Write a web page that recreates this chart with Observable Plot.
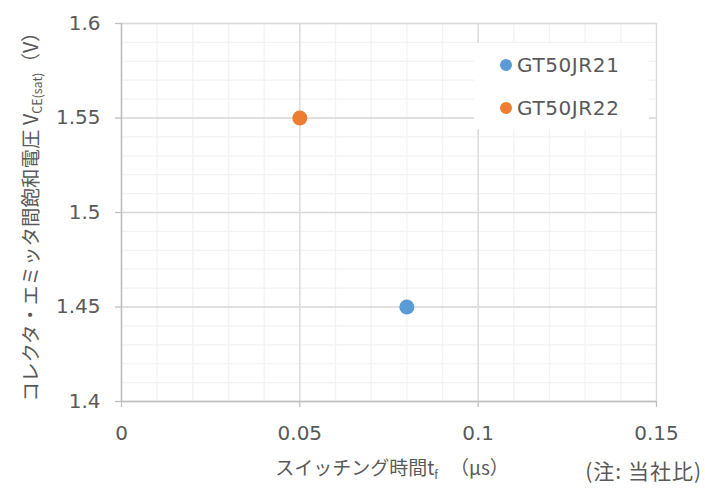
<!DOCTYPE html>
<html>
<head>
<meta charset="utf-8">
<script src="https://cdn.jsdelivr.net/npm/d3@7"></script>
<script src="https://cdn.jsdelivr.net/npm/@observablehq/plot@0.6"></script>
<style>
  html, body { margin: 0; padding: 0; background: #fff; }
  #chart svg { display: block; }
</style>
</head>
<body>
<div id="chart"></div>
<script>
// ---- data ----
const seriesNames = ["GT50JR21", "GT50JR22"];
const seriesColors = ["#5b9bd5", "#ed7d31"];
const switchingTime = [0.08, 0.05];      // tf (μs)
const vceSat = [1.45, 1.55];             // VCE(sat) (V)
const xTicks = [0, 0.05, 0.1, 0.15];
const xTickLabels = ["0", "0.05", "0.1", "0.15"];
const yTicks = [1.4, 1.45, 1.5, 1.55, 1.6];
const yTickLabels = ["1.4", "1.45", "1.5", "1.55", "1.6"];

const points = seriesNames.map((name, i) => ({name, x: switchingTime[i], y: vceSat[i], color: seriesColors[i]}));

const FONT = "'DejaVu Sans', 'Noto Sans CJK JP', sans-serif";
const JFONT = "'Noto Sans CJK JP', sans-serif";
const TXT = "#595959";

const chart = Plot.plot({
  width: 705,
  height: 490,
  marginLeft: 121,
  marginRight: 49,
  marginTop: 23,
  marginBottom: 89,
  style: {fontFamily: FONT, fontSize: "20px", color: TXT, background: "#fff"},
  x: {domain: [0, 0.15]},
  y: {domain: [1.4, 1.6]},
  marks: [
    Plot.gridX({ticks: 15, stroke: "#f2f2f2", strokeOpacity: 1, strokeWidth: 1.3}),
    Plot.gridY({ticks: 20, stroke: "#f2f2f2", strokeOpacity: 1, strokeWidth: 1.3}),
    Plot.gridX({ticks: xTicks, stroke: "#d9d9d9", strokeOpacity: 1, strokeWidth: 1.3}),
    Plot.gridY({ticks: yTicks, stroke: "#d9d9d9", strokeOpacity: 1, strokeWidth: 1.3}),
    Plot.axisX({ticks: xTicks, tickFormat: (d, i) => xTickLabels[i], tickSize: 6, tickPadding: 18,
      stroke: "#bfbfbf", strokeWidth: 1.3, label: null, fill: TXT}),
    Plot.axisY({ticks: yTicks, tickFormat: (d, i) => yTickLabels[i], tickSize: 6, tickPadding: 15,
      stroke: "#bfbfbf", strokeWidth: 1.3, label: null, fill: TXT}),
    Plot.ruleX([0], {stroke: "#bfbfbf", strokeWidth: 1.5}),
    Plot.ruleY([1.4], {stroke: "#bfbfbf", strokeWidth: 1.5}),
    Plot.dot(points, {x: "x", y: "y", fill: "color", r: 7.5, stroke: null})
  ]
});

document.getElementById("chart").appendChild(chart);

const svg = d3.select(chart);

// legend box
const lg = svg.append("g").attr("class", "legend");
lg.append("rect").attr("x", 474).attr("y", 43).attr("width", 175).attr("height", 86).attr("fill", "#fff");
seriesNames.forEach((name, i) => {
  const cy = 65 + i * 43;
  lg.append("circle").attr("cx", 506).attr("cy", cy).attr("r", 6).attr("fill", seriesColors[i]);
  lg.append("text").attr("x", 517).attr("y", cy).attr("dy", "0.36em")
    .attr("text-anchor", "start")
    .attr("font-family", FONT).attr("font-size", 20).attr("letter-spacing", 0.6).attr("fill", TXT).text(name);
});

// y axis title
const yt = svg.append("text")
  .attr("transform", "translate(31,212) rotate(-90)")
  .attr("text-anchor", "middle")
  .attr("dy", "0.36em")
  .attr("font-family", JFONT).attr("font-size", 19.5).attr("fill", TXT);
yt.append("tspan").text("コレクタ・エミッタ間飽和電圧 V");
yt.append("tspan").attr("font-size", 12.5).attr("dy", 4).text("CE(sat)");
yt.append("tspan").attr("dy", -4).text("（V）");

// x axis title
const xt = svg.append("text")
  .attr("x", 392).attr("y", 475)
  .attr("text-anchor", "middle")
  .attr("font-family", JFONT).attr("font-size", 19).attr("fill", TXT);
xt.append("tspan").text("スイッチング時間t");
xt.append("tspan").attr("font-size", 11.5).attr("dy", 4).text("f");
xt.append("tspan").attr("dy", -4).attr("dx", 12).text("（μs）");

// caption
svg.append("text")
  .attr("x", 702).attr("y", 479)
  .attr("text-anchor", "end")
  .attr("font-family", JFONT).attr("font-size", 21).attr("letter-spacing", 1).attr("fill", TXT)
  .text("(注: 当社比)");
</script>
</body>
</html>
